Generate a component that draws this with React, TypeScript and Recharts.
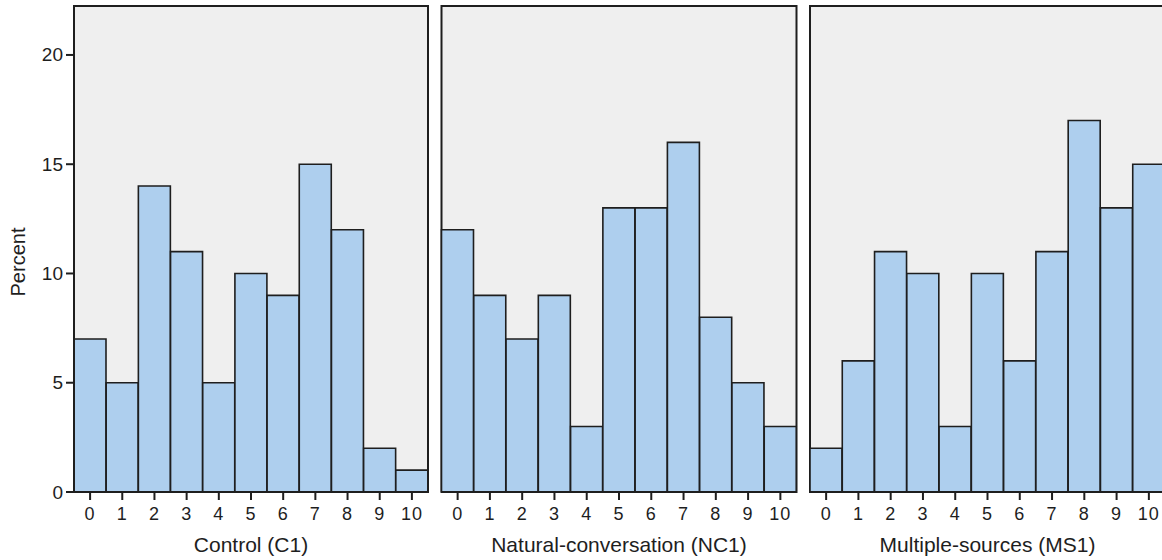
import React from 'react';
import { BarChart, Bar, XAxis, YAxis, CartesianGrid, ReferenceArea } from 'recharts';

const categories = ['0', '1', '2', '3', '4', '5', '6', '7', '8', '9', '10'];
const control = [7, 5, 14, 11, 5, 10, 9, 15, 12, 2, 1];
const naturalConversation = [12, 9, 7, 9, 3, 13, 13, 16, 8, 5, 3];
const multipleSources = [2, 6, 11, 10, 3, 10, 6, 11, 17, 13, 15];
const yTicks = [0, 5, 10, 15, 20];
const yMax = 22.24;

const INK = '#1e1e1e';
const BAR_FILL = '#aecfee';
const PANEL_BG = '#efefef';
const TICK_FONT = 18;

const renderPercent = (props: any) => {
    const vb = props.viewBox || { x: 0, y: 0, width: 0, height: 0 };
    const cx = vb.x + 18;
    const cy = vb.y + vb.height / 2 + 13;
    return (
        <text x={cx} y={cy} transform={`rotate(-90, ${cx}, ${cy})`} textAnchor="middle" dominantBaseline="central" style={{ fontSize: 20 }} fill={INK}>
            Percent
        </text>
    );
};

// custom tick renderers so the font size sticks
const XTick = (props: any) => {
    const { x, y, payload } = props;
    return (
        <text x={x} y={y + 1} textAnchor="middle" dominantBaseline="hanging" style={{ fontSize: TICK_FONT }} fill={INK} letterSpacing={1}>
            {payload.value}
        </text>
    );
};

const YTick = (props: any) => {
    const { x, y, payload } = props;
    return (
        <text x={x} y={y} textAnchor="end" dominantBaseline="central" style={{ fontSize: 19 }} fill={INK}>
            {payload.value}
        </text>
    );
};

interface PanelProps {
    values: number[];
    title: string;
    showY: boolean;
    left: number;
    width: number;
    marginLeft: number;
    marginRight: number;
}

const Panel: React.FC<PanelProps> = ({ values, title, showY, left, width, marginLeft, marginRight }) => {
    const data = categories.map((c, i) => ({ cat: c, pct: values[i] }));
    return (
        <div style={{ position: 'absolute', left, top: 0 }}>
            <BarChart width={width} height={560} data={data} barCategoryGap={0} barGap={0}
                margin={{ top: 6, right: marginRight, left: marginLeft, bottom: 0 }}>
                <CartesianGrid fill={PANEL_BG} horizontal={false} vertical={false} />
                <XAxis dataKey="cat" interval={0} height={68} tickSize={8} tickMargin={6}
                    tick={XTick} tickLine={{ stroke: INK, strokeWidth: 2 }}
                    axisLine={{ stroke: INK, strokeWidth: 2 }}
                    label={{ value: title, position: 'insideBottom', offset: 8, fontSize: 21, fill: INK }} />
                {showY ? (
                    <YAxis type="number" domain={[0, yMax]} ticks={yTicks} width={74} tickSize={8} tickMargin={3}
                        tick={YTick} tickLine={{ stroke: INK, strokeWidth: 2 }}
                        axisLine={{ stroke: INK, strokeWidth: 2 }} allowDataOverflow
                        label={{ content: renderPercent }} />
                ) : (
                    <YAxis type="number" domain={[0, yMax]} ticks={yTicks} width={0} tick={false} tickLine={false}
                        axisLine={{ stroke: INK, strokeWidth: 2 }} allowDataOverflow />
                )}
                <Bar dataKey="pct" fill={BAR_FILL} stroke={INK} strokeWidth={1.6} isAnimationActive={false} />
                <ReferenceArea y1={0} y2={yMax} fill="none" stroke={INK} strokeWidth={2} ifOverflow="visible" />
            </BarChart>
        </div>
    );
};

export default function App() {
    return (
        <div style={{ position: 'absolute', left: 0, top: 0, width: 1162, height: 560, overflow: 'hidden', background: '#fff', fontFamily: '"Liberation Sans", Arial, sans-serif' }}>
            <Panel values={control} title="Control (C1)" showY left={0} width={430} marginLeft={0} marginRight={2} />
            <Panel values={naturalConversation} title="Natural-conversation (NC1)" showY={false} left={436} width={366} marginLeft={5.5} marginRight={5.5} />
            <Panel values={multipleSources} title="Multiple-sources (MS1)" showY={false} left={805} width={365} marginLeft={5} marginRight={5} />
        </div>
    );
}
